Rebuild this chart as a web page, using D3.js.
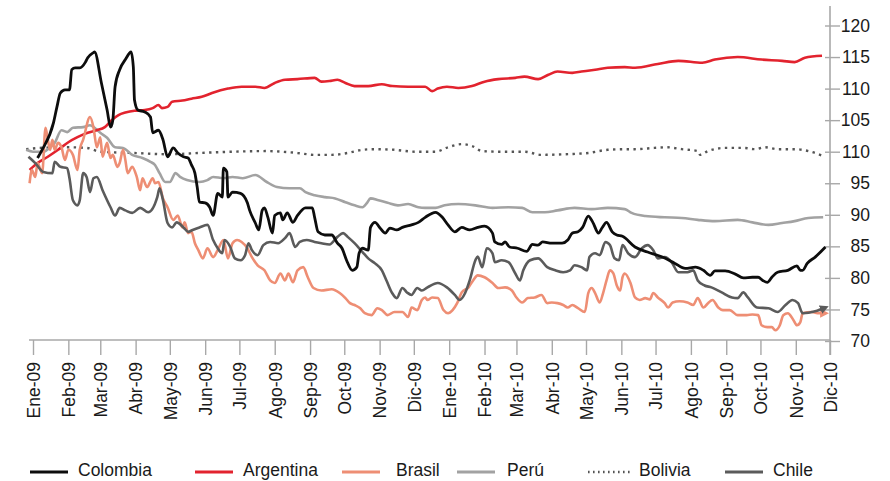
<!DOCTYPE html>
<html><head><meta charset="utf-8">
<script src="https://cdn.jsdelivr.net/npm/d3@7"></script>
<style>
html,body{margin:0;padding:0;background:#fff;}
svg text{font-family:"Liberation Sans",Arial,Helvetica,sans-serif;fill:#1a1a1a;}
</style></head>
<body><svg id="chart" width="890" height="481"></svg>
<script>
// ---- data: [days after 1 Jan 2009, index value] ----
const colombia = [[4,99.0],[8,100.3],[18,104.6],[21,107.1],[24,109.3],[28,109.8],[32,109.8],[34,113.0],[37,113.3],[41,113.3],[46,114.2],[48,114.9],[53,115.7],[54,115.8],[60,110.9],[65,106.6],[68,103.9],[70,105.0],[72,110.3],[76,113.0],[81,114.6],[86,115.8],[88,113.4],[89,108.2],[92,106.6],[98,106.3],[103,105.5],[105,103.0],[110,103.4],[114,101.9],[118,99.2],[123,100.6],[127,99.8],[132,99.2],[136,99.0],[139,97.9],[142,96.6],[144,94.4],[146,92.0],[151,91.9],[155,91.2],[158,89.9],[162,93.4],[166,92.8],[167,97.4],[170,96.8],[171,92.8],[175,93.6],[182,93.4],[188,91.9],[190,90.7],[195,88.7],[198,87.6],[201,90.7],[203,91.1],[206,89.6],[210,87.1],[212,89.9],[217,90.3],[219,89.2],[223,90.3],[228,88.8],[232,89.9],[239,91.1],[245,91.1],[247,89.6],[250,87.3],[256,86.8],[262,86.8],[267,85.5],[271,84.7],[275,82.8],[280,81.2],[284,81.7],[286,83.9],[289,84.7],[294,84.4],[296,88.0],[300,88.8],[304,88.0],[309,87.1],[313,87.9],[319,87.6],[324,88.0],[332,88.4],[338,88.8],[344,89.6],[353,90.4],[359,89.6],[364,88.4],[370,87.3],[376,88.0],[383,87.6],[390,88.0],[396,88.2],[403,87.1],[405,85.7],[411,85.3],[414,85.7],[418,84.9],[425,84.7],[433,84.2],[438,85.3],[443,85.2],[447,85.7],[455,85.5],[464,85.5],[469,86.0],[473,87.1],[478,87.3],[482,88.0],[487,89.8],[491,88.8],[496,87.1],[499,87.9],[503,88.8],[508,87.3],[512,86.8],[517,86.6],[528,84.9],[539,84.1],[552,83.3],[563,82.3],[572,81.5],[581,81.7],[588,81.2],[594,80.4],[598,81.1],[607,81.1],[616,80.6],[623,80.0],[631,80.1],[636,80.1],[640,79.6],[644,79.3],[648,80.1],[653,80.9],[662,81.2],[670,81.9],[673,81.2],[675,81.2],[679,82.3],[686,83.3],[695,84.9]];

const argentina = [[-3,97.1],[4,98.2],[13,99.2],[22,100.3],[31,101.5],[39,102.3],[48,103.0],[56,103.4],[63,103.9],[69,105.0],[75,105.8],[81,106.2],[89,106.5],[98,106.6],[105,106.9],[110,107.4],[113,106.9],[118,107.1],[122,107.9],[131,108.1],[139,108.4],[148,108.7],[157,109.3],[171,110.0],[183,110.3],[195,110.3],[203,110.1],[212,110.9],[221,111.4],[232,111.5],[247,111.7],[253,111.1],[260,111.2],[267,111.4],[274,110.9],[282,110.4],[294,110.4],[306,110.7],[315,110.4],[329,110.3],[344,110.3],[350,109.6],[355,110.0],[363,110.3],[373,110.1],[385,110.4],[396,111.1],[408,111.5],[423,111.7],[431,111.9],[443,111.5],[452,112.2],[460,112.7],[473,112.5],[481,112.7],[493,113.0],[504,113.3],[519,113.4],[528,113.3],[548,113.9],[566,114.4],[587,114.1],[598,114.6],[618,115.0],[639,114.6],[657,114.4],[668,114.2],[677,114.9],[692,115.2]];

const brasil = [[-3,95.0],[-1,97.1],[2,96.0],[4,98.2],[8,96.6],[11,103.8],[13,101.9],[15,100.3],[17,101.9],[19,100.3],[22,101.4],[25,100.7],[28,98.7],[31,100.3],[35,99.5],[39,97.1],[41,100.3],[44,101.9],[50,105.5],[53,103.9],[56,100.7],[59,102.3],[61,99.2],[65,101.4],[68,99.0],[70,99.5],[74,97.6],[76,98.2],[79,100.3],[81,98.7],[83,96.6],[87,97.6],[91,96.0],[94,93.9],[96,95.8],[100,94.4],[105,95.8],[107,95.0],[110,95.2],[114,92.6],[118,91.2],[123,89.2],[127,89.9],[131,88.0],[133,88.8],[136,87.1],[139,87.3],[142,85.5],[145,84.4],[149,83.1],[153,84.7],[158,83.3],[162,84.4],[167,86.0],[171,83.1],[175,85.5],[179,86.0],[183,85.7],[188,84.7],[192,83.3],[197,82.0],[203,81.2],[208,79.6],[212,79.2],[217,80.7],[221,79.6],[224,80.7],[228,79.3],[232,81.2],[237,81.7],[241,80.1],[246,78.4],[253,78.0],[262,78.2],[269,77.6],[274,76.8],[278,76.0],[282,75.7],[287,75.2],[291,74.4],[297,74.1],[302,75.2],[306,74.9],[311,74.1],[317,74.6],[324,74.6],[329,73.8],[332,75.3],[337,74.9],[341,76.5],[344,76.9],[346,76.5],[350,76.9],[355,76.8],[360,74.9],[364,74.4],[368,74.9],[372,76.0],[376,77.7],[382,78.5],[386,79.6],[390,80.4],[396,80.1],[403,79.2],[408,78.4],[414,78.5],[420,78.0],[424,76.9],[429,76.1],[434,76.8],[440,76.9],[446,77.3],[451,76.0],[455,76.1],[460,76.0],[465,75.7],[469,75.3],[473,75.7],[478,75.2],[484,74.6],[487,77.6],[490,78.4],[493,77.6],[497,76.1],[500,77.6],[503,79.6],[506,81.2],[509,80.7],[512,78.8],[515,78.0],[517,80.1],[519,80.7],[524,79.2],[528,76.9],[532,76.5],[537,76.8],[541,76.6],[544,77.6],[548,76.9],[554,76.0],[557,75.3],[561,76.1],[567,76.3],[574,76.1],[579,75.7],[583,76.8],[588,75.3],[592,76.0],[596,76.5],[601,75.3],[605,74.9],[611,74.9],[618,74.1],[626,74.1],[631,74.2],[636,74.1],[639,72.5],[644,72.2],[648,72.2],[651,71.7],[655,72.5],[658,74.1],[662,74.4],[667,73.3],[670,72.5],[673,73.0],[675,74.4],[683,74.6],[688,74.4],[695,74.4]];

const peru = [[-6,100.3],[0,100.0],[9,100.0],[15,100.7],[19,101.4],[25,103.4],[30,103.1],[35,103.8],[44,103.9],[50,104.2],[54,103.8],[59,103.0],[65,102.2],[72,100.7],[79,100.6],[87,99.5],[96,99.0],[103,98.4],[107,97.9],[111,96.6],[116,95.2],[120,95.2],[125,96.6],[129,96.0],[135,95.5],[146,95.2],[153,95.5],[158,96.0],[167,95.8],[175,96.0],[184,95.8],[195,96.3],[205,95.2],[214,94.4],[225,94.2],[234,94.2],[239,93.6],[247,93.1],[256,92.8],[265,92.6],[274,92.0],[282,91.5],[289,91.2],[293,91.9],[296,92.6],[303,92.3],[311,91.9],[320,91.5],[329,91.7],[338,91.2],[344,91.1],[353,91.1],[361,91.5],[373,91.7],[388,91.5],[403,91.1],[417,91.2],[429,91.1],[438,90.4],[449,90.4],[460,90.7],[475,91.1],[490,90.9],[504,91.1],[519,90.9],[525,90.3],[537,89.8],[554,89.6],[569,89.5],[583,89.2],[598,89.0],[618,89.2],[631,88.8],[645,88.4],[657,88.7],[668,89.0],[680,89.5],[693,89.6]];

const bolivia = [[-6,100.4],[6,100.6],[30,100.7],[47,100.6],[59,100.0],[88,99.8],[118,99.6],[146,99.8],[175,100.0],[206,100.1],[218,100.0],[232,99.8],[247,99.5],[262,99.5],[276,99.8],[289,100.3],[300,100.4],[317,100.3],[335,100.0],[353,100.0],[364,100.7],[376,101.2],[385,100.9],[394,100.1],[411,100.0],[431,100.0],[446,99.5],[467,99.6],[487,99.8],[504,100.3],[519,100.4],[528,100.4],[545,100.6],[556,100.7],[569,100.4],[583,100.1],[585,99.5],[592,100.1],[607,100.6],[624,100.6],[633,100.4],[642,100.7],[653,100.4],[668,100.4],[680,100.1],[693,99.3]];

const chile = [[-4,99.2],[2,98.2],[9,96.8],[17,96.6],[19,98.4],[24,97.6],[30,97.4],[32,95.8],[35,92.3],[39,91.5],[41,92.3],[44,96.6],[47,96.0],[50,93.6],[53,95.8],[56,96.0],[61,93.9],[68,91.2],[72,89.9],[76,91.1],[81,90.7],[87,90.3],[94,91.1],[101,90.4],[109,92.8],[111,94.2],[114,92.3],[118,88.7],[122,88.0],[126,88.8],[132,88.0],[136,87.3],[140,87.6],[146,88.0],[153,88.4],[158,86.0],[162,84.7],[166,83.9],[168,86.0],[173,84.9],[177,83.1],[182,82.8],[186,83.6],[189,85.5],[192,84.4],[197,83.6],[202,85.2],[208,85.7],[215,85.5],[221,86.3],[225,87.1],[230,84.9],[234,85.7],[240,86.0],[247,85.7],[253,85.5],[260,85.3],[267,86.5],[272,87.1],[276,86.5],[282,85.5],[289,84.1],[294,83.1],[300,82.3],[306,81.2],[310,79.6],[315,77.6],[319,76.8],[324,78.4],[328,77.7],[332,77.3],[337,78.4],[341,78.0],[346,78.5],[355,79.2],[363,78.5],[370,77.3],[374,76.5],[379,77.6],[383,79.6],[388,82.8],[390,83.4],[394,81.7],[398,84.7],[403,83.9],[405,82.5],[411,82.8],[417,82.5],[423,80.7],[427,79.6],[430,81.2],[436,82.8],[443,83.1],[451,81.7],[458,81.2],[465,80.9],[471,81.2],[475,82.0],[481,81.7],[486,81.2],[488,83.3],[493,83.9],[497,83.6],[502,85.7],[506,85.2],[510,83.1],[514,82.8],[517,85.2],[522,83.9],[528,83.3],[534,84.7],[539,85.2],[544,84.4],[548,83.1],[554,83.3],[560,82.5],[566,80.9],[574,80.9],[579,81.2],[583,79.6],[589,78.8],[595,78.5],[604,77.7],[613,76.9],[618,76.8],[623,77.7],[627,76.9],[635,75.3],[645,75.2],[653,74.6],[660,75.7],[666,76.5],[671,76.0],[675,74.4],[686,74.7],[695,75.3]];

const seriesNames = ["Colombia","Argentina","Brasil","Perú","Bolivia","Chile"];
const xTickLabels = ["Ene-09","Feb-09","Mar-09","Abr-09","May-09","Jun-09","Jul-09","Ago-09","Sep-09","Oct-09","Nov-09","Dic-09",
                     "Ene-10","Feb-10","Mar-10","Abr-10","May-10","Jun-10","Jul-10","Ago-10","Sep-10","Oct-10","Nov-10","Dic-10"];
const yTickValues = [70,75,80,85,90,95,100,105,110,115,120];
const yTickLabels = ["70","75","80","85","90","95","110","105","110","115","120"];

// ---- styles ----
const styles = {
  "Colombia": {color:"#0d0d0d", width:2.8, dash:null, marker:false},
  "Argentina":{color:"#e2232e", width:2.6, dash:null, marker:false},
  "Brasil":   {color:"#ee8e74", width:2.6, dash:null, marker:true},
  "Perú":     {color:"#a2a2a2", width:2.6, dash:null, marker:false},
  "Bolivia":  {color:"#555555", width:2.4, dash:"2.4,4.4", marker:false},
  "Chile":    {color:"#5b5b5b", width:2.6, dash:null, marker:true}
};
const seriesData = [colombia, argentina, brasil, peru, bolivia, chile];

const svg = d3.select("#chart");
const base = new Date(2009,0,1);
const toDate = d => d3.timeDay.offset(base, d);

const x = d3.scaleTime().domain([base, new Date(2010,11,1)]).range([33, 830]);
const y = d3.scaleLinear().domain([70,120]).range([341, 25.5]);

const axisColor = "#a8a8a8";

// x axis
const monthTicks = d3.timeMonth.range(base, new Date(2010,11,2));
const xAxis = d3.axisBottom(x).tickValues(monthTicks)
  .tickFormat((d,i) => xTickLabels[i]).tickSize(15).tickPadding(7);
const gx = svg.append("g").attr("transform","translate(0,340)").call(xAxis);
gx.select(".domain").remove();
gx.selectAll(".tick line").attr("stroke",axisColor).attr("stroke-width",1.4);
gx.selectAll(".tick text")
  .attr("transform","rotate(-90)")
  .attr("text-anchor","end")
  .attr("x",-22).attr("y",0).attr("dy","0.36em")
  .style("font-size","17.5px");
svg.append("line").attr("x1",29).attr("x2",830).attr("y1",340).attr("y2",340)
  .attr("stroke",axisColor).attr("stroke-width",1.6);

// y axis (right)
const yAxis = d3.axisRight(y).tickValues(yTickValues)
  .tickFormat((d,i) => yTickLabels[i]).tickSize(10).tickPadding(0);
const gy = svg.append("g").attr("transform","translate(830,0)").call(yAxis);
gy.select(".domain").remove();
gy.selectAll(".tick line").attr("x1",-5).attr("x2",10).attr("stroke",axisColor).attr("stroke-width",1.4);
gy.selectAll(".tick text").attr("x",40).attr("text-anchor","end").style("font-size","17.5px");
svg.append("line").attr("x1",830).attr("x2",830).attr("y1",6).attr("y2",355)
  .attr("stroke",axisColor).attr("stroke-width",1.6);

// markers
const defs = svg.append("defs");
seriesNames.forEach((n,i) => {
  defs.append("marker").attr("id","arr"+i).attr("viewBox","0 0 10 10")
    .attr("refX",6).attr("refY",5).attr("markerWidth",3.4).attr("markerHeight",3.4)
    .attr("orient","auto").attr("markerUnits","strokeWidth")
    .append("path").attr("d","M0,0 L10,5 L0,10 Z").attr("fill",styles[n].color);
});

// lines
const line = d3.line().x(d => x(toDate(d[0]))).y(d => y(d[1])).curve(d3.curveMonotoneX);
const drawOrder = [4,3,1,2,5,0];
drawOrder.forEach(i => {
  const n = seriesNames[i], s = styles[n];
  const p = svg.append("path").datum(seriesData[i])
    .attr("d", line).attr("fill","none")
    .attr("stroke", s.color).attr("stroke-width", s.width)
    .attr("stroke-linejoin","round");
  if (s.dash) p.attr("stroke-dasharray", s.dash);
  if (s.marker) p.attr("marker-end","url(#arr"+i+")");
});

// legend
const legendX = [30,195,342,457,588,725];
const lg = svg.append("g").attr("transform","translate(0,472)");
seriesNames.forEach((n,i) => {
  const s = styles[n];
  const g = lg.append("g").attr("transform",`translate(${legendX[i]},0)`);
  const l = g.append("line").attr("x1",0).attr("x2", n==="Bolivia"?42:38).attr("y1",0).attr("y2",0)
    .attr("stroke",s.color).attr("stroke-width",3);
  if (s.dash) l.attr("stroke-dasharray","1.6,3.4").attr("stroke-width",2.4);
  g.append("text").attr("x", n==="Bolivia"?51:(n==="Brasil"?54:(n==="Perú"?50:48))).attr("y",4)
    .style("font-size","17.5px").text(n);
});
</script></body></html>
